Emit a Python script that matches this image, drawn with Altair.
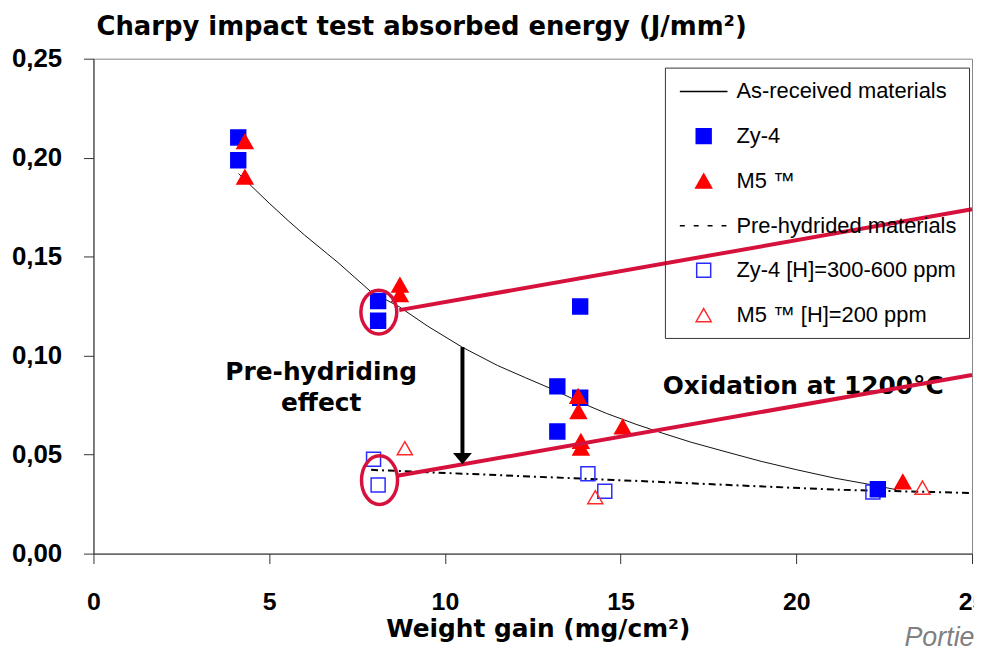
import altair as alt
import pandas as pd

# ---------------- data ----------------
series_names = ["As-received materials", "Zy-4", "M5 ™",
                "Pre-hydrided materials", "Zy-4 [H]=300-600 ppm", "M5 ™ [H]=200 ppm"]

zy4_x = [4.12, 4.12, 8.10, 8.10, 13.85, 13.20, 13.85, 13.20, 22.32]
zy4_y = [0.2102, 0.1987, 0.1276, 0.1176, 0.1248, 0.0845, 0.0787, 0.0617, 0.0325]

m5_x = [4.31, 4.31, 8.72, 8.72, 13.79, 13.80, 13.87, 13.87, 15.06, 23.03]
m5_y = [0.2081, 0.1902, 0.1357, 0.1309, 0.0795, 0.0718, 0.0567, 0.0534, 0.0641, 0.0363]

zy4h_x = [7.97, 8.10, 14.07, 14.55, 22.18]
zy4h_y = [0.0477, 0.0346, 0.0403, 0.0315, 0.0311]

m5h_x = [8.86, 14.28, 23.59]
m5h_y = [0.0532, 0.0285, 0.0333]

curve_x = [4.13, 5.0, 5.54, 6.0, 6.96, 7.9, 8.7, 9.5, 10.49, 11.5, 12.3, 13.09,
           13.89, 14.6, 15.44, 16.2, 17.0, 18.0, 19.0, 20.0, 21.1, 22.04, 22.84]
curve_y = [0.1919, 0.1770, 0.1682, 0.1610, 0.1470, 0.1322, 0.1247, 0.1150, 0.1043,
           0.0950, 0.0888, 0.0828, 0.0761, 0.0708, 0.0653, 0.0608, 0.0563, 0.0514,
           0.0466, 0.0424, 0.0381, 0.0351, 0.0323]

hyd_x = [7.9, 15.35, 21.1, 25.0]
hyd_y = [0.0423, 0.0368, 0.0323, 0.0306]

ox_upper_x = [8.70, 25.0]
ox_upper_y = [0.1230, 0.1739]
ox_lower_x = [8.65, 25.0]
ox_lower_y = [0.0393, 0.0902]

ring_upper = [8.12, 0.122]
ring_lower = [8.14, 0.0371]

arrow_x = 10.5
arrow_top = 0.1043
arrow_bottom = 0.050
arrow_head_y = 0.048

effect_lines = ["Pre-hydriding", "effect"]
effect_x = [6.48, 6.48]
effect_y = [0.0919, 0.0758]
oxid_label = "Oxidation at 1200°C"
oxid_x = 16.2
oxid_y = 0.0848

chart_title = "Charpy impact test absorbed energy (J/mm²)"
x_title = "Weight gain (mg/cm²)"
source_note = "Portie"

x_ticks = [0, 5, 10, 15, 20, 25]
y_ticks = [0.0, 0.05, 0.10, 0.15, 0.20, 0.25]

# ---------------- tables ----------------
pts = pd.concat([
    pd.DataFrame({"x": zy4h_x, "y": zy4h_y, "series": series_names[4]}),
    pd.DataFrame({"x": m5h_x, "y": m5h_y, "series": series_names[5]}),
    pd.DataFrame({"x": zy4_x, "y": zy4_y, "series": series_names[1]}),
    pd.DataFrame({"x": m5_x, "y": m5_y, "series": series_names[2]}),
], ignore_index=True)
pts["order"] = range(len(pts))

curve_df = pd.DataFrame({"x": curve_x, "y": curve_y})
hyd_df = pd.DataFrame({"x": hyd_x, "y": hyd_y})
ox_df = pd.concat([
    pd.DataFrame({"x": ox_upper_x, "y": ox_upper_y, "g": "upper"}),
    pd.DataFrame({"x": ox_lower_x, "y": ox_lower_y, "g": "lower"}),
], ignore_index=True)

RED = "#d6123c"
SYM = 484  # symbol size: custom paths are scaled by sqrt(484)/2 = 11 px per unit
LINE_PATH = "M-2.18,0L2.18,0"
DASH_PATH = "M-2.18,0L-1.73,0M-0.91,0L-0.46,0M0.36,0L0.81,0M1.63,0L2.08,0"
SQ_PATH = "M-0.68,-0.68L0.68,-0.68L0.68,0.68L-0.68,0.68Z"
TRI_PATH = "M0,-0.64L0.73,0.64L-0.73,0.64Z"
SQO_PATH = "M-0.64,-0.64L0.64,-0.64L0.64,0.64L-0.64,0.64Z"
TRIO_PATH = "M0,-0.6L0.69,0.6L-0.69,0.6Z"


def ellipse(rx):
    k = 0.5523
    return (f"M{rx},0C{rx},{k},{rx*k:.3f},1,0,1C{-rx*k:.3f},1,{-rx},{k},{-rx},0"
            f"C{-rx},{-k},{-rx*k:.3f},-1,0,-1C{rx*k:.3f},-1,{rx},{-k},{rx},0Z")


xs = alt.Scale(domain=[0, 25], nice=False, zero=False)
ys = alt.Scale(domain=[0, 0.25], nice=False, zero=False)

X = alt.X("x:Q", scale=xs, axis=alt.Axis(
    values=x_ticks, title=x_title, grid=False,
    labelFont="Liberation Sans", labelFontWeight="bold", labelFontSize=25, labelColor="black",
    labelPadding=26, labelFlush=False, labelOverlap=False,
    tickSize=10, tickColor="#333", domainColor="#333",
    titleFont="DejaVu Sans", titleFontWeight="bold", titleFontSize=25, titleColor="black",
    titleBaseline="alphabetic", titleY=83, titleX=447))
Y = alt.Y("y:Q", scale=ys, axis=alt.Axis(
    values=y_ticks, title=None, grid=False,
    labelExpr="replace(format(datum.value, '.2f'), '.', ',')",
    labelFont="Liberation Sans", labelFontWeight="bold", labelFontSize=26, labelColor="black",
    labelPadding=22, labelFlush=False, labelOverlap=False, labelBaseline="middle",
    tickSize=10, tickColor="#333", domainColor="#333"))

curve = alt.Chart(curve_df).mark_line(color="#111", strokeWidth=1).encode(x=X, y=Y)
hyd = alt.Chart(hyd_df).mark_line(color="black", strokeWidth=2, strokeDash=[7, 4, 2, 4]).encode(x=X, y=Y)

points = alt.Chart(pts).mark_point(filled=True, opacity=1, strokeWidth=1.5, size=SYM).encode(
    x=X, y=Y,
    order=alt.Order("order:Q"),
    shape=alt.Shape("series:N", scale=alt.Scale(
        domain=series_names,
        range=[LINE_PATH, SQ_PATH, TRI_PATH, DASH_PATH, SQO_PATH, TRIO_PATH])),
    fill=alt.Fill("series:N", scale=alt.Scale(
        domain=series_names,
        range=["black", "#0000ff", "#ff0000", "black", "transparent", "transparent"])),
    stroke=alt.Stroke("series:N", scale=alt.Scale(
        domain=series_names,
        range=["black", "#0000ff", "#ff0000", "black", "#2b2bff", "#ff2b2b"])),
)

ring_u = alt.Chart(pd.DataFrame({"x": [ring_upper[0]], "y": [ring_upper[1]]})).mark_point(
    shape=ellipse(0.82), size=1936, filled=False, stroke=RED, strokeWidth=3.5, opacity=1
).encode(x=X, y=Y)
ring_l = alt.Chart(pd.DataFrame({"x": [ring_lower[0]], "y": [ring_lower[1]]})).mark_point(
    shape=ellipse(0.74), size=2401, filled=False, stroke=RED, strokeWidth=3.5, opacity=1
).encode(x=X, y=Y)

effect_txt = alt.Chart(pd.DataFrame({"x": effect_x, "y": effect_y, "t": effect_lines})).mark_text(
    font="DejaVu Sans", fontWeight="bold", fontSize=25, color="black", align="center", baseline="middle"
).encode(x=X, y=Y, text="t:N")

oxid_txt = alt.Chart(pd.DataFrame({"x": [oxid_x], "y": [oxid_y], "t": [oxid_label]})).mark_text(
    font="DejaVu Sans", fontWeight="bold", fontSize=25, color="black", align="left", baseline="middle"
).encode(x=X, y=Y, text="t:N")

ox_lines = alt.Chart(ox_df).mark_line(color=RED, strokeWidth=4).encode(x=X, y=Y, detail="g:N")

arrow_shaft = alt.Chart(pd.DataFrame({"x": [arrow_x], "y": [arrow_top], "y2": [arrow_bottom]})).mark_rule(
    color="black", strokeWidth=4).encode(x=X, y=Y, y2="y2:Q")
arrow_head = alt.Chart(pd.DataFrame({"x": [arrow_x], "y": [arrow_head_y]})).mark_point(
    shape="M-1,-0.6L1,-0.6L0,0.6Z", size=361, filled=True, color="black", opacity=1
).encode(x=X, y=Y)

source = alt.Chart(pd.DataFrame({"t": [source_note]})).mark_text(
    font="Liberation Sans", fontStyle="italic", fontSize=27, color="#808080", align="left", baseline="middle"
).encode(x=alt.value(816), y=alt.value(583), text="t:N")

title_txt = alt.Chart(pd.DataFrame({"t": [chart_title]})).mark_text(
    font="DejaVu Sans", fontWeight="bold", fontSize=26, color="black", align="left", baseline="alphabetic"
).encode(x=alt.value(3), y=alt.value(-24), text="t:N")

chart = alt.layer(
    curve, hyd, points, ring_u, ring_l, effect_txt, oxid_txt, ox_lines, arrow_shaft, arrow_head,
    source, title_txt
).properties(
    width=884, height=498,
    autosize=alt.AutoSizeParams(type="none"),
    padding={"left": 86, "top": 49, "right": 2, "bottom": 94},
).configure_view(
    stroke="#888", strokeWidth=1
).configure_legend(
    orient="none", legendX=575, legendY=9, title=None,
    padding=12, strokeColor="#333", strokeWidth=1,
    labelFont="Liberation Sans", labelFontSize=22, labelColor="black",
    symbolSize=SYM, symbolOffset=15, labelOffset=21, rowPadding=22,
    symbolStrokeWidth=1.5, labelLimit=400,
)

chart.save("out.html", embed_options={"renderer": "svg", "actions": False})
